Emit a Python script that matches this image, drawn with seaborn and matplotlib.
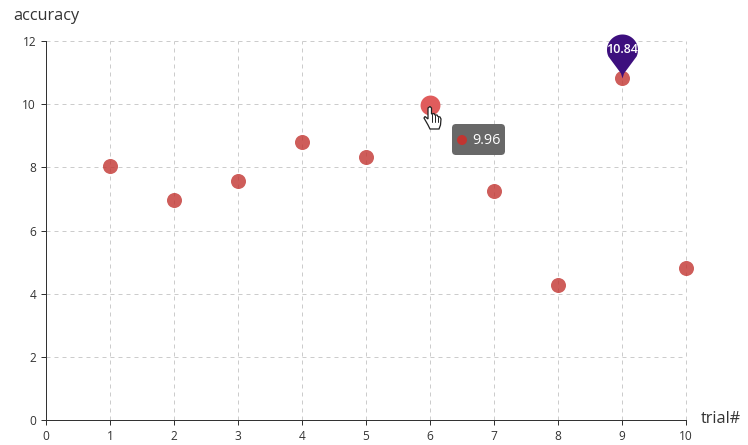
import numpy as np
import pandas as pd
import seaborn as sns
from matplotlib import pyplot as plt
from matplotlib.patches import FancyBboxPatch, Polygon, Circle
from matplotlib.path import Path
from matplotlib.transforms import Affine2D

trial = [1, 2, 3, 4, 5, 6, 7, 8, 9, 10]
accuracy = [8.04, 6.95, 7.58, 8.81, 8.33, 9.96, 7.24, 4.26, 10.84, 4.82]
x_ticks = [0, 1, 2, 3, 4, 5, 6, 7, 8, 9, 10]
y_ticks = [0, 2, 4, 6, 8, 10, 12]
hover_trial = 6
max_trial = 9

sns.set_style('white')
plt.rcParams['font.family'] = ['Open Sans', 'DejaVu Sans']

W, H = 748, 445
fig = plt.figure(figsize=(W / 100, H / 100), dpi=100)
ax = fig.add_axes([46 / W, (H - 420) / H, 640 / W, 379 / H])
px = Affine2D().scale(1, -1).translate(0, H)  # image pixels to display

df = pd.DataFrame({'trial': trial, 'accuracy': accuracy})
rest = df[df.trial != hover_trial]
hover = df[df.trial == hover_trial]
top = df[df.trial == max_trial]

sns.scatterplot(data=rest, x='trial', y='accuracy', ax=ax, color='#c23531', alpha=0.8,
                s=117, linewidth=0, clip_on=False, zorder=3)
sns.scatterplot(data=hover, x='trial', y='accuracy', ax=ax, color='#e05c5c', alpha=1,
                s=205, linewidth=0, clip_on=False, zorder=3)


# pin marker, tip on the data point
def pin_path(r=15.5, cy=28.5):
    angles = np.linspace(-25, 205, 60) * np.pi / 180
    pts = [(0, 0), (1.5, 5)] + [(r * np.cos(a), cy + r * np.sin(a)) for a in angles] + [(-1.5, 5), (0, 0)]
    return Path(pts)


pin = pin_path()
sns.scatterplot(data=top, x='trial', y='accuracy', ax=ax, color='#3d0f7e', marker=pin,
                s=(2 * 44 * 0.72) ** 2, linewidth=0, clip_on=False, zorder=4)
ax.annotate(f'{top.accuracy.iloc[0]:.2f}', (top.trial.iloc[0], top.accuracy.iloc[0]),
            xytext=(0, 20), textcoords='offset points', ha='center', va='center',
            color='white', fontsize=9, fontweight='semibold', zorder=5)

ax.set_xlim(0, 10)
ax.set_ylim(0, 12)
ax.set_xticks(x_ticks)
ax.set_yticks(y_ticks)
ax.set_xlabel('')
ax.set_ylabel('')
ax.grid(True, linestyle=(0, (4, 4)), color='#cccccc', linewidth=0.72)
for line in ax.get_xgridlines() + ax.get_ygridlines():
    line.set_clip_on(False)
ax.set_axisbelow(True)
sns.despine(ax=ax)
for s in ['left', 'bottom']:
    ax.spines[s].set_color('#333333')
    ax.spines[s].set_linewidth(0.72)
ax.tick_params(axis='both', length=3.6, width=0.72, color='#333333', labelcolor='#333333',
               labelsize=8.6, pad=3.5, left=True, bottom=True)

fig.text(13 / W, 1 - 16.5 / H, 'accuracy', fontsize=11.7, color='#333333', va='center')
fig.text(701 / W, 1 - 419 / H, 'trial#', fontsize=11.7, color='#333333', va='center')

# tooltip
box = FancyBboxPatch((456, 128), 45, 23, boxstyle='round,pad=4,rounding_size=4',
                     facecolor='#686868', edgecolor='none', transform=px)
fig.add_artist(box)
fig.add_artist(Circle((462, 140), 5, facecolor='#c23531', edgecolor='none', transform=px))
fig.text(472 / W, 1 - 140 / H, '9.96', fontsize=10.4, color='white', va='center', fontweight='medium')

# hand cursor
hand = [(428, 108), (430, 106.5), (431.5, 108), (431.5, 114), (434, 113.5), (435, 115),
        (437, 115), (438, 116.5), (440, 117), (441, 119), (440.5, 125), (439, 129),
        (430, 129), (428, 125), (424, 118), (425, 116.5), (428, 119)]
fig.add_artist(Polygon(hand, closed=True, facecolor='white', edgecolor='#222222',
                       linewidth=0.9, transform=px))
for xa, ya, yb in [(431.5, 114, 122), (435, 115, 122), (438, 116.5, 122)]:
    fig.add_artist(plt.Line2D([xa, xa], [ya, yb], color='#222222', linewidth=0.7, transform=px))

fig.savefig('out.png', dpi=100)
